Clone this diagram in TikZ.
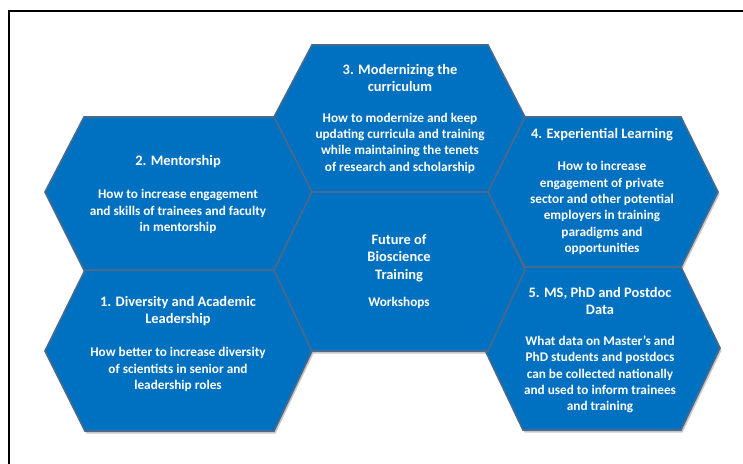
\documentclass[tikz,border=0pt]{standalone}
\usepackage{fontspec}
\setmainfont{Carlito}
\definecolor{hexblue}{RGB}{0,112,192}
\definecolor{hexedge}{RGB}{72,106,140}
\tikzset{
  hexfill/.style={fill=hexblue, draw=hexedge, line width=1.6bp, line join=miter},
  hexshadow/.style={fill=black, opacity=0.22},
  ttl/.style={text=white, font=\bfseries\fontsize{14.5}{17.8}\selectfont, align=center, inner sep=0pt},
  bdy/.style={text=white, font=\bfseries\fontsize{13.3}{16.4}\selectfont, align=center, inner sep=0pt},
  framestyle/.style={draw=black, line width=1.1bp}
}
\newcommand\myhex[7]{%
  \fill[hexshadow, shift={(1.5,2.5)}] (#1,#6) -- (#2,#5) -- (#3,#5) -- (#4,#6) -- (#3,#7) -- (#2,#7) -- cycle;
}
\newcommand\myhexdraw[7]{%
  \draw[hexfill] (#1,#6) -- (#2,#5) -- (#3,#5) -- (#4,#6) -- (#3,#7) -- (#2,#7) -- cycle;
}
\begin{document}
\begin{tikzpicture}[x=1bp, y=-1bp]
\useasboundingbox (0,0) rectangle (743,464);
\fill[white] (0,0) rectangle (743,464);
% frame
\coordinate (fbl) at (9,464);
\coordinate (ftr) at (743,11);
\draw[framestyle] (fbl) |- (ftr);
% shadows
\myhex{274}{312}{488}{525}{45}{117}{192}
\myhex{45}{84}{274}{312}{117}{192}{270}
\myhex{45}{85}{274}{312}{270}{351}{431}
\myhex{488}{525}{681}{718}{117}{192}{267}
\myhex{484}{523}{681}{720}{267}{348}{430}
\myhex{274}{312}{488}{525}{192}{270}{351}
% hexagons
\myhexdraw{274}{312}{488}{525}{45}{117}{192}
\myhexdraw{45}{84}{274}{312}{117}{192}{270}
\myhexdraw{45}{85}{274}{312}{270}{351}{431}
\myhexdraw{488}{525}{681}{718}{117}{192}{267}
\myhexdraw{484}{523}{681}{720}{267}{348}{430}
\myhexdraw{274}{312}{488}{525}{192}{270}{351}
% texts
\node[ttl] (t3) at (400,78) {3. Modernizing the\\curriculum};
\node[bdy] (b3) at (400,143) {How to modernize and keep\\updating curricula and training\\while maintaining the tenets\\of research and scholarship};
\node[ttl] (t2) at (178,162) {2. Mentorship};
\node[bdy] (b2) at (178,211.5) {How to increase engagement\\and skills of trainees and faculty\\in mentorship};
\node[ttl] (t1) at (178,311) {1. Diversity and Academic\\Leadership};
\node[bdy] (b1) at (178,369.5) {How better to increase diversity\\of scientists in senior and\\leadership roles};
\node[ttl] (tc) at (399,258) {Future of\\Bioscience\\Training};
\node[bdy] (bc) at (399,303) {Workshops};
\node[ttl] (t4) at (602,135) {4. Experiential Learning};
\node[bdy] (b4) at (602,208) {How to increase\\engagement of private\\sector and other potential\\employers in training\\paradigms and\\opportunities};
\node[ttl] (t5) at (600,301) {5. MS, PhD and Postdoc\\Data};
\node[bdy] (b5) at (600,374.5) {What data on Master’s and\\PhD students and postdocs\\can be collected nationally\\and used to inform trainees\\and training};
\end{tikzpicture}
\end{document}
